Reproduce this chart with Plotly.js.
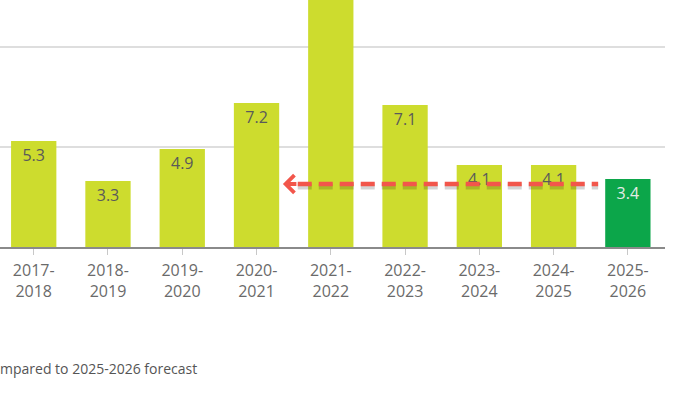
<!DOCTYPE html>
<html>
<head>
<meta charset="utf-8">
<script src="https://cdn.plot.ly/plotly-3.0.1.min.js"></script>
<style>html,body{margin:0;padding:0;background:#fff;}#chart{width:700px;height:394px;}</style>
</head>
<body>
<div id="chart"></div>
<script>
// ---- data ----
const categories = ['2017-2018','2018-2019','2019-2020','2020-2021','2021-2022','2022-2023','2023-2024','2024-2025','2025-2026'];
const tickLabels = ['2017-<br>2018','2018-<br>2019','2019-<br>2020','2020-<br>2021','2021-<br>2022','2022-<br>2023','2023-<br>2024','2024-<br>2025','2025-<br>2026'];
const values = [5.3, 3.3, 4.9, 7.2, 12.9, 7.1, 4.1, 4.1, 3.4];
const forecastCategory = '2025-2026';
const compareLevel = 3.15;          // level of the dashed comparison arrow
const arrowFromIndex = 7.6;         // right end of arrow (category index)
const arrowToIndex = 3.355;         // arrow tip (category index)
const footnote = 'mpared to 2025-2026 forecast';

const yMax = 12.35;
const lightColor = '#cddc2e';
const forecastColor = '#0ca64a';
const red = '#f2564b';

const barColors = categories.map(c => c === forecastCategory ? forecastColor : lightColor);
const textColors = categories.map(c => c === forecastCategory ? '#e4ece6' : '#5a5a5a');
const labels = values.map(v => v > yMax ? '' : v.toFixed(1));

const trace = {
  type: 'bar',
  x: categories,
  y: values,
  marker: {color: barColors, line: {width: 0}},
  text: labels,
  textposition: 'inside',
  insidetextanchor: 'end',
  textangle: 0,
  constraintext: 'none',
  textfont: {family: 'Open Sans, sans-serif', size: 16, color: textColors},
  hoverinfo: 'none'
};

const layout = {
  width: 700, height: 394,
  margin: {l: 0, r: 35, t: 0, b: 147},
  paper_bgcolor: '#fff', plot_bgcolor: '#fff',
  showlegend: false,
  bargap: 0.39,
  font: {family: 'Open Sans, sans-serif'},
  xaxis: {
    type: 'category',
    range: [-0.454, 8.5],
    tickvals: categories,
    ticktext: tickLabels,
    ticks: 'outside', ticklen: 6, tickwidth: 1, tickcolor: '#c8c8c8',
    ticklabelstandoff: 2,
    showline: true, linecolor: '#8a8a8a', linewidth: 1.5,
    tickfont: {family: 'Open Sans, sans-serif', size: 16, color: '#6a6a6a'},
    showgrid: false, fixedrange: true
  },
  yaxis: {
    range: [0, yMax],
    dtick: 5,
    showticklabels: false,
    showgrid: true, gridcolor: '#dedede', gridwidth: 1.5,
    zeroline: false, showline: false, fixedrange: true
  },
  shapes: [
    {type: 'line', xref: 'x', yref: 'y', layer: 'above',
     x0: arrowToIndex + 0.2, x1: arrowFromIndex, y0: compareLevel - 0.13, y1: compareLevel - 0.13,
     line: {color: 'rgba(0,0,0,0.17)', width: 6, dash: '14px,7px'}},
    {type: 'line', xref: 'x', yref: 'y', layer: 'above',
     x0: arrowToIndex + 0.2, x1: arrowFromIndex, y0: compareLevel, y1: compareLevel,
     line: {color: red, width: 4.5, dash: '14px,7px'}}
  ],
  annotations: [
    {x: arrowToIndex, y: compareLevel, xref: 'x', yref: 'y', text: '',
     showarrow: true, ax: 15, ay: 0, arrowhead: 4, arrowsize: 0.85, arrowwidth: 4, arrowcolor: red},
    {x: -2/665, y: -121/247, xref: 'paper', yref: 'paper', xanchor: 'left', yanchor: 'middle',
     text: footnote, showarrow: false,
     font: {family: 'Open Sans, sans-serif', size: 14, color: '#555'}}
  ]
};

Plotly.newPlot('chart', [trace], layout, {displayModeBar: false, staticPlot: true});
</script>
</body>
</html>
